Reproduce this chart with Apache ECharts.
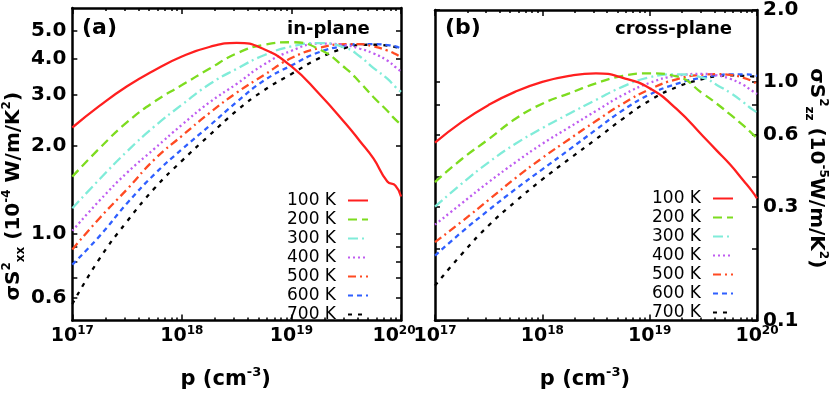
<!DOCTYPE html>
<html>
<head>
<meta charset="utf-8">
<script src="https://cdn.jsdelivr.net/npm/echarts@6/dist/echarts.min.js"></script>
<style>
html,body{margin:0;padding:0;background:#fff;}
#main_chart{width:830px;height:395px;}
</style>
</head>
<body>
<div id="main_chart"></div>
<script>
// carrier concentration p (cm^-3), shared by all curves
var carrierConc = [1e17, 1.78e17, 3.16e17, 5.62e17, 1e18, 1.78e18, 3.16e18, 5.62e18,
                   1e19, 1.78e19, 3.16e19, 4.22e19, 5.62e19, 7.5e19, 8.91e19, 1e20];
var tempNames = ['100 K', '200 K', '300 K', '400 K', '500 K', '600 K', '700 K'];

// (a) in-plane, sigma*S^2_xx in 1e-4 W/m/K^2
var inPlane100 = [2.32, 2.76, 3.22, 3.66, 4.08, 4.40, 4.55, 4.32, 3.77, 3.04, 2.38, 2.08, 1.81, 1.51, 1.46, 1.34];
var inPlane200 = [1.57, 1.97, 2.42, 2.85, 3.25, 3.70, 4.18, 4.48, 4.57, 4.33, 3.70, 3.32, 2.95, 2.65, 2.47, 2.38];
var inPlane300 = [1.22, 1.54, 1.92, 2.34, 2.78, 3.27, 3.70, 4.12, 4.42, 4.54, 4.36, 4.08, 3.72, 3.42, 3.20, 3.08];
var inPlane400 = [1.02, 1.30, 1.62, 1.96, 2.37, 2.83, 3.28, 3.83, 4.27, 4.52, 4.46, 4.34, 4.18, 3.95, 3.75, 3.62];
var inPlane500 = [0.88, 1.13, 1.42, 1.80, 2.17, 2.60, 3.06, 3.52, 4.03, 4.36, 4.50, 4.50, 4.42, 4.28, 4.16, 4.05];
var inPlane600 = [0.78, 0.98, 1.27, 1.60, 1.95, 2.35, 2.84, 3.37, 3.80, 4.22, 4.45, 4.50, 4.50, 4.47, 4.42, 4.35];
var inPlane700 = [0.57, 0.82, 1.10, 1.43, 1.78, 2.18, 2.65, 3.12, 3.55, 4.02, 4.38, 4.47, 4.48, 4.45, 4.40, 4.36];

// (b) cross-plane, sigma*S^2_zz in 1e-5 W/m/K^2
var cross100 = [0.556, 0.68, 0.80, 0.91, 1.00, 1.06, 1.085, 1.04, 0.94, 0.77, 0.59, 0.515, 0.45, 0.385, 0.35, 0.325];
var cross200 = [0.38, 0.475, 0.575, 0.70, 0.81, 0.895, 0.985, 1.06, 1.085, 1.055, 0.89, 0.81, 0.73, 0.655, 0.61, 0.58];
var cross300 = [0.30, 0.375, 0.46, 0.55, 0.64, 0.735, 0.84, 0.955, 1.045, 1.075, 1.04, 0.97, 0.90, 0.82, 0.77, 0.745];
var cross400 = [0.252, 0.31, 0.38, 0.46, 0.55, 0.645, 0.755, 0.88, 0.99, 1.06, 1.08, 1.065, 1.03, 0.97, 0.92, 0.89];
var cross500 = [0.213, 0.26, 0.32, 0.395, 0.48, 0.575, 0.685, 0.81, 0.93, 1.025, 1.072, 1.078, 1.07, 1.04, 1.01, 0.98];
var cross600 = [0.187, 0.235, 0.29, 0.355, 0.43, 0.52, 0.63, 0.76, 0.885, 0.98, 1.045, 1.065, 1.075, 1.075, 1.07, 1.06];
var cross700 = [0.14, 0.19, 0.25, 0.315, 0.39, 0.475, 0.575, 0.70, 0.835, 0.95, 1.03, 1.055, 1.065, 1.06, 1.055, 1.05];

// tick positions
var xMajorTicks = [1e17, 1e18, 1e19, 1e20];
var xMinorTicks = [2e17, 3e17, 4e17, 5e17, 6e17, 7e17, 8e17, 9e17,
                   2e18, 3e18, 4e18, 5e18, 6e18, 7e18, 8e18, 9e18,
                   2e19, 3e19, 4e19, 5e19, 6e19, 7e19, 8e19, 9e19];
var leftYLabels = [0.6, 1.0, 2.0, 3.0, 4.0, 5.0];
var leftYTicks = [0.6, 0.7, 0.8, 0.9, 1.0, 2.0, 3.0, 4.0, 5.0];
var rightYLabels = [0.1, 0.3, 0.6, 1.0, 2.0];
var rightYTicks = [0.1, 0.2, 0.3, 0.4, 0.6, 0.8, 1.0, 2.0];

var FONT = 'DejaVu Sans';
// line looks per temperature (color, dash)
var lineLooks = [
    {color: '#ff1f1f', type: 'solid'},
    {color: '#7ddc1f', type: [9, 5]},
    {color: '#80ecd9', type: [10, 4, 2, 4]},
    {color: '#bf5cf0', type: [2, 3]},
    {color: '#ff4a22', type: [8, 4, 2, 4]},
    {color: '#2f5fff', type: [5, 4]},
    {color: '#000000', type: [4, 6]}
];

var frameLine = {show: true, lineStyle: {color: '#000', width: 2.5}};
var boldTxt = {fontFamily: FONT, fontWeight: 'bold', color: '#000'};

// 左图的 10^20 标签向左让一点, 避免和右图的 10^17 重叠
function powLabelFor(g){
    return function(v){
        var e = Math.round(Math.log10(v));
        var s = '{b|10}{s|' + e + '}';
        if(g === 0 && e === 20){ s += '{pad|}'; }
        return s;
    };
}

//一个面板的x轴: 底部/顶部 主刻度 + 次刻度
function makeXAxes(g){
    var base = {type: 'log', logBase: 10, min: 1e17, max: 1e20, gridIndex: g, splitLine: {show: false}};
    return [
        Object.assign({}, base, {
            position: 'bottom', axisLine: frameLine,
            axisTick: {show: true, inside: true, length: 6, customValues: xMajorTicks, lineStyle: {color: '#000', width: 1.5}},
            axisLabel: {customValues: xMajorTicks, margin: 4, formatter: powLabelFor(g),
                rich: {
                    b: Object.assign({fontSize: 19, lineHeight: 24}, boldTxt),
                    s: Object.assign({fontSize: 12, lineHeight: 13, verticalAlign: 'top'}, boldTxt),
                    pad: {width: 14}
                }},
            name: '{t|p (cm}{s|-3}{t|)}', nameLocation: 'middle', nameGap: 46,
            nameTextStyle: {padding: [0, 22, 0, 0], rich: {
                t: Object.assign({fontSize: 21, lineHeight: 26}, boldTxt),
                s: Object.assign({fontSize: 13, lineHeight: 14, verticalAlign: 'top'}, boldTxt)
            }}
        }),
        Object.assign({}, base, {
            position: 'top', axisLine: frameLine,
            axisTick: {show: true, inside: true, length: 6, customValues: xMajorTicks, lineStyle: {color: '#000', width: 1.5}},
            axisLabel: {show: false}
        }),
        Object.assign({}, base, {
            position: 'bottom', axisLine: {show: false},
            axisTick: {show: true, inside: true, length: 3, customValues: xMinorTicks, lineStyle: {color: '#000', width: 1.5}},
            axisLabel: {show: false}
        }),
        Object.assign({}, base, {
            position: 'top', axisLine: {show: false},
            axisTick: {show: true, inside: true, length: 3, customValues: xMinorTicks, lineStyle: {color: '#000', width: 1.5}},
            axisLabel: {show: false}
        })
    ];
}

function makeYAxis(g, pos, min, max, ticks, labels, extra){
    var ax = {
        type: 'log', logBase: 10, min: min, max: max, gridIndex: g, position: pos,
        splitLine: {show: false}, axisLine: frameLine,
        axisTick: {show: true, inside: true, length: 5, customValues: ticks, lineStyle: {color: '#000', width: 1.5}},
        axisLabel: labels ? Object.assign({customValues: labels, fontSize: 20, margin: 6,
            formatter: function(v){ return v.toFixed(1); }}, boldTxt) : {show: false}
    };
    return Object.assign(ax, extra || {});
}

var nameRich = {
    b: Object.assign({fontSize: 20, lineHeight: 26}, boldTxt),
    sup: Object.assign({fontSize: 12, lineHeight: 13, verticalAlign: 'top'}, boldTxt),
    sub: Object.assign({fontSize: 12, lineHeight: 13, verticalAlign: 'bottom'}, boldTxt)
};

var xAxisArr = makeXAxes(0).concat(makeXAxes(1));
var yAxisArr = [
    makeYAxis(0, 'left', 0.5, 6, leftYTicks, leftYLabels, {
        name: '{b|σS}{sup|2}{sub|xx}{b| (10}{sup|-4}{b| W/m/K}{sup|2}{b|)}',
        nameLocation: 'middle', nameGap: 43, nameRotate: 90,
        nameTextStyle: {padding: [0, 64, 0, 0], rich: nameRich}
    }),
    makeYAxis(0, 'right', 0.5, 6, leftYTicks, null),
    makeYAxis(1, 'left', 0.1, 2, rightYTicks, null),
    makeYAxis(1, 'right', 0.1, 2, rightYTicks, rightYLabels, {
        name: '{b|σS}{sup|2}{sub|zz}{b| (10}{sup|-5}{b|W/m/K}{sup|2}{b|)}',
        nameLocation: 'middle', nameGap: 46, nameRotate: -90,
        nameTextStyle: {padding: [0, 0, 0, 6], rich: nameRich}
    })
];

var inPlaneSets = [inPlane100, inPlane200, inPlane300, inPlane400, inPlane500, inPlane600, inPlane700];
var crossSets = [cross100, cross200, cross300, cross400, cross500, cross600, cross700];

var mySeries = [];
function pushPanel(sets, xIdx, yIdx){
    for(var i=0;i<sets.length;i++){
        var vals = sets[i];
        mySeries.push({
            name: tempNames[i], type: 'line', xAxisIndex: xIdx, yAxisIndex: yIdx,
            data: carrierConc.map(function(p, k){ return [p, vals[k]]; }),
            symbol: 'none', smooth: 0.5, z: 10 - i,
            lineStyle: {color: lineLooks[i].color, type: lineLooks[i].type, width: 2.3},
            itemStyle: {color: lineLooks[i].color}
        });
    }
}
pushPanel(inPlaneSets, 0, 0);
pushPanel(crossSets, 4, 2);

function makeLegend(left, top){
    return {
        data: tempNames, orient: 'vertical', left: left, top: top, align: 'right',
        padding: 0, itemGap: 0, itemWidth: 20, itemHeight: 10, selectedMode: false,
        itemStyle: {opacity: 0},
        textStyle: {fontFamily: FONT, fontSize: 17, lineHeight: 19, color: '#000', padding: [0, 7, 0, 0]}
    };
}

var myChart = echarts.init(document.getElementById('main_chart'));
var option = {
    animation: false,
    backgroundColor: '#fff',
    title: [
        {text: '(a)', left: 82, top: 17, padding: 0, textStyle: Object.assign({fontSize: 22}, boldTxt)},
        {text: 'in-plane', left: 287, top: 20, padding: 0, textStyle: Object.assign({fontSize: 18}, boldTxt)},
        {text: '(b)', left: 445, top: 17, padding: 0, textStyle: Object.assign({fontSize: 22}, boldTxt)},
        {text: 'cross-plane', left: 615, top: 20, padding: 0, textStyle: Object.assign({fontSize: 18}, boldTxt)}
    ],
    grid: [
        {left: 72, top: 8, width: 329, height: 328},
        {left: 435, top: 8, width: 325, height: 328}
    ],
    legend: [makeLegend(287, 191), makeLegend(652, 189)],
    xAxis: xAxisArr,
    yAxis: yAxisArr,
    series: mySeries
};
myChart.setOption(option);
</script>
</body>
</html>
